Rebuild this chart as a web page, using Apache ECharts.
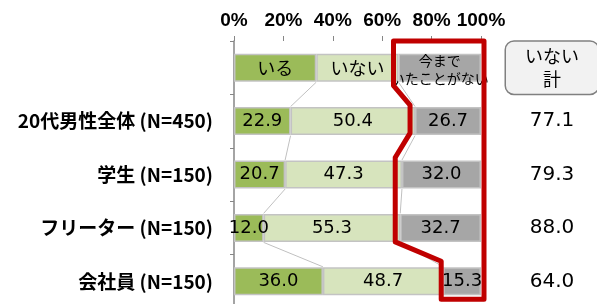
<!DOCTYPE html>
<html>
<head>
<meta charset="utf-8">
<script src="https://cdn.jsdelivr.net/npm/echarts@6/dist/echarts.min.js"></script>
<style>
html,body{margin:0;padding:0;background:#fff;}
#c{width:597px;height:304px;}
</style>
</head>
<body>
<div id="c"></div>
<script>
const categories = ['', '20代男性全体 (N=450)', '学生 (N=150)', 'フリーター (N=150)', '会社員 (N=150)'];
const seriesNames = ['いる', 'いない', '今まで\nいたことがない'];
const iru = [33.3, 22.9, 20.7, 12.0, 36.0];
const inai = [33.3, 50.4, 47.3, 55.3, 48.7];
const never = [33.4, 26.7, 32.0, 32.7, 15.3];
const totals = [77.1, 79.3, 88.0, 64.0];
const totalHeader = 'いない\n計';

const JP = "'Noto Sans CJK JP', sans-serif";
const NUM = "'DejaVu Sans', sans-serif";
const colors = ['#9BBB59', '#D7E4BD', '#A6A6A6'];
const allVals = [iru, inai, never];

function barSeries(k) {
  return {
    type: 'bar',
    name: seriesNames[k],
    stack: 'all',
    barWidth: 28,
    itemStyle: { color: colors[k], borderColor: '#C3C3C3', borderWidth: 1.5 },
    label: {
      show: true, position: 'inside', color: '#000', fontFamily: NUM, fontSize: 18,
      formatter: p => p.value.toFixed(1)
    },
    data: allVals[k].map((v, i) => i === 0 ? {
      value: v,
      label: k === 2
        ? { formatter: seriesNames[k], fontFamily: JP, fontSize: 14, lineHeight: 18, offset: [0, 2] }
        : { formatter: seriesNames[k], fontFamily: JP, fontSize: 18 }
    } : v),
    z: 2
  };
}

const chart = echarts.init(document.getElementById('c'), null, { renderer: 'canvas' });

const option = {
  animation: false,
  grid: { left: 234, right: 116, top: 41, bottom: -4, containLabel: false, outerBoundsMode: 'none' },
  xAxis: {
    type: 'value', position: 'top', min: 0, max: 100, interval: 20,
    axisLine: { show: false },
    axisTick: { show: true, length: 5, lineStyle: { color: '#868686' } },
    splitLine: { show: false },
    axisLabel: {
      formatter: '{value}%', color: '#000', fontFamily: "'Liberation Sans', Arial, sans-serif",
      fontWeight: 'bold', fontSize: 19, margin: 11
    }
  },
  yAxis: [{
    type: 'category', inverse: true, data: categories,
    axisLine: { show: true, lineStyle: { color: '#868686', width: 1.5 } },
    axisTick: { show: true, length: 4, lineStyle: { color: '#868686' } },
    axisLabel: { color: '#000', fontFamily: JP, fontWeight: 'bold', fontSize: 19, margin: 21 }
  }, {
    type: 'category', inverse: true, position: 'right',
    data: [{
      value: totalHeader,
      textStyle: {
        fontFamily: JP, fontSize: 18, lineHeight: 23, backgroundColor: '#F2F2F2', align: 'center',
        borderColor: '#808080', borderWidth: 1.5, borderRadius: 8, padding: [3, 19]
      }
    }].concat(totals.map(v => v.toFixed(1))),
    axisLine: { show: false }, axisTick: { show: false },
    axisLabel: { color: '#000', fontFamily: NUM, fontSize: 20, margin: 71, align: 'center' }
  }],
  series: [
    barSeries(0), barSeries(1), barSeries(2),
    {
      type: 'custom', clip: false, z: 1, silent: true,
      data: [0, 1, 2, 3].map(i => [i, i]),
      encode: { x: 0, y: 1 },
      renderItem: function (params, api) {
        const i = api.value(0);
        const h = 14.5;
        const a1 = api.coord([iru[i], i]), a2 = api.coord([iru[i + 1], i + 1]);
        const b1 = api.coord([iru[i] + inai[i], i]), b2 = api.coord([iru[i + 1] + inai[i + 1], i + 1]);
        const st = { stroke: '#C0C0C0', lineWidth: 1, fill: null };
        return {
          type: 'group', children: [
            { type: 'line', shape: { x1: a1[0], y1: a1[1] + h, x2: a2[0], y2: a2[1] - h }, style: st },
            { type: 'line', shape: { x1: b1[0], y1: b1[1] + h, x2: b2[0], y2: b2[1] - h }, style: st }
          ]
        };
      }
    },
    {
      type: 'custom', clip: false, z: 3, silent: true,
      data: [[0, 0]],
      encode: { x: 0, y: 1 },
      renderItem: function (params, api) {
        const off = 5, h = 14;
        const band = api.size([0, 1])[1];
        const gx = i => api.coord([iru[i] + inai[i], i])[0] - off;
        const yc = i => api.coord([0, i])[1];
        const xr = api.coord([100, 0])[0] + 3;
        const g23 = Math.min(gx(2), gx(3));
        const top = yc(0) - band / 2;
        const bot = yc(4) + h + 4;
        const pts = [
          [gx(0), top], [gx(0), yc(0) + h + 4],
          [gx(1), yc(1) - h - 2], [gx(1), yc(1) + h - 2],
          [g23, yc(2) - h - 3], [g23, yc(3) + h],
          [gx(4) + 3, yc(4) - h - 6], [gx(4) + 3, bot],
          [xr, bot], [xr, top]
        ];
        return {
          type: 'polygon', shape: { points: pts },
          style: { fill: null, stroke: '#C00000', lineWidth: 5, lineJoin: 'round' }
        };
      }
    }
  ]
};
chart.setOption(option);
</script>
</body>
</html>
